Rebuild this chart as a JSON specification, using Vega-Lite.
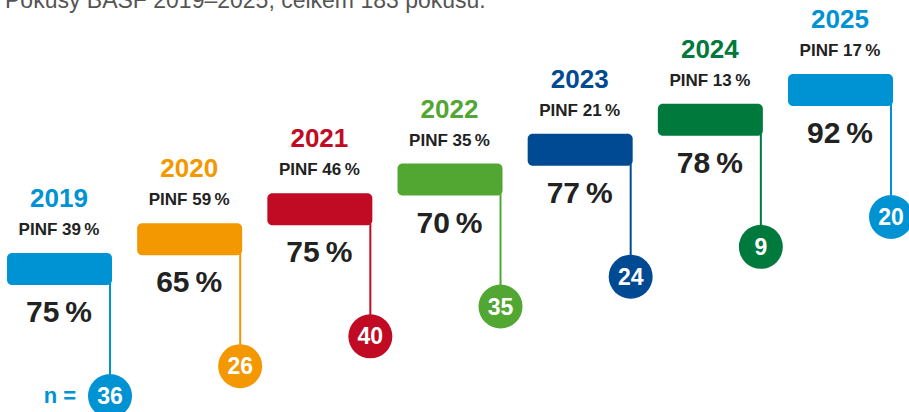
{
  "$schema": "https://vega.github.io/schema/vega-lite/v6.json",
  "width": 909,
  "height": 412,
  "autosize": {"type": "none"},
  "padding": 0,
  "background": "white",
  "config": {"view": {"stroke": null}, "font": "Liberation Sans"},
  "title": {
    "text": "Pokusy BASF 2019–2025, celkem 183 pokusů.",
    "anchor": "start",
    "frame": "group",
    "orient": "top",
    "offset": 0,
    "baseline": "alphabetic",
    "dx": 5,
    "dy": 31,
    "fontSize": 23,
    "fontWeight": "normal",
    "font": "Liberation Sans",
    "color": "#555555"
  },
  "data": {
    "values": [
      {"year": 2019, "pinfLabel": "PINF 39\u2009%", "successLabel": "75\u2009%", "n": 36},
      {"year": 2020, "pinfLabel": "PINF 59\u2009%", "successLabel": "65\u2009%", "n": 26},
      {"year": 2021, "pinfLabel": "PINF 46\u2009%", "successLabel": "75\u2009%", "n": 40},
      {"year": 2022, "pinfLabel": "PINF 35\u2009%", "successLabel": "70\u2009%", "n": 35},
      {"year": 2023, "pinfLabel": "PINF 21\u2009%", "successLabel": "77\u2009%", "n": 24},
      {"year": 2024, "pinfLabel": "PINF 13\u2009%", "successLabel": "78\u2009%", "n": 9},
      {"year": 2025, "pinfLabel": "PINF 17\u2009%", "successLabel": "92\u2009%", "n": 20}
    ]
  },
  "encoding": {
    "x": {"field": "year", "type": "quantitative", "axis": null, "scale": {"domain": [2018.5467, 2025.53], "zero": false, "nice": false}},
    "y": {"field": "year", "type": "quantitative", "axis": null, "scale": {"domain": [2013.67, 2027.482], "zero": false, "nice": false}}
  },
  "layer": [
    {
      "mark": {"type": "rule", "strokeWidth": 2, "xOffset": 51, "yOffset": 30, "y2Offset": 143},
      "encoding": {
        "y2": {"field": "year"},
        "color": {"field": "year", "type": "nominal", "legend": null, "scale": {"domain": [2019, 2020, 2021, 2022, 2023, 2024, 2025], "range": ["#0093d3", "#f39800", "#c10b25", "#52a733", "#004a93", "#00793d", "#0093d3"]}}
      }
    },
    {
      "mark": {"type": "rect", "xOffset": -52, "x2Offset": 53, "yOffset": 0, "y2Offset": 32, "cornerRadius": 5},
      "encoding": {
        "x2": {"field": "year"},
        "y2": {"field": "year"},
        "color": {"field": "year", "type": "nominal", "legend": null, "scale": {"domain": [2019, 2020, 2021, 2022, 2023, 2024, 2025], "range": ["#0093d3", "#f39800", "#c10b25", "#52a733", "#004a93", "#00793d", "#0093d3"]}}
      }
    },
    {
      "mark": {"type": "circle", "xOffset": 51, "yOffset": 143, "size": 1936, "opacity": 1},
      "encoding": {
        "color": {"field": "year", "type": "nominal", "legend": null, "scale": {"domain": [2019, 2020, 2021, 2022, 2023, 2024, 2025], "range": ["#0093d3", "#f39800", "#c10b25", "#52a733", "#004a93", "#00793d", "#0093d3"]}}
      }
    },
    {
      "mark": {"type": "text", "xOffset": 51, "yOffset": 143, "baseline": "middle", "align": "center", "fontSize": 23, "fontWeight": "bold", "color": "white", "dy": 1},
      "encoding": {"text": {"field": "n"}}
    },
    {
      "mark": {"type": "text", "yOffset": -54, "baseline": "middle", "align": "center", "fontSize": 26, "fontWeight": "bold"},
      "encoding": {
        "text": {"field": "year"},
        "color": {"field": "year", "type": "nominal", "legend": null, "scale": {"domain": [2019, 2020, 2021, 2022, 2023, 2024, 2025], "range": ["#0093d3", "#f39800", "#c10b25", "#52a733", "#004a93", "#00793d", "#0093d3"]}}
      }
    },
    {
      "mark": {"type": "text", "yOffset": -23, "baseline": "middle", "align": "center", "fontSize": 17, "fontWeight": "bold", "color": "#222222"},
      "encoding": {"text": {"field": "pinfLabel"}}
    },
    {
      "mark": {"type": "text", "yOffset": 60, "baseline": "middle", "align": "center", "fontSize": 30, "fontWeight": "bold", "color": "#222222"},
      "encoding": {"text": {"field": "successLabel"}}
    },
    {
      "transform": [{"filter": "datum.year == 2019"}],
      "mark": {"type": "text", "yOffset": 143, "xOffset": 1, "baseline": "middle", "align": "center", "fontSize": 22, "fontWeight": "bold", "color": "#0093d3"},
      "encoding": {"text": {"value": "n ="}}
    }
  ]
}
